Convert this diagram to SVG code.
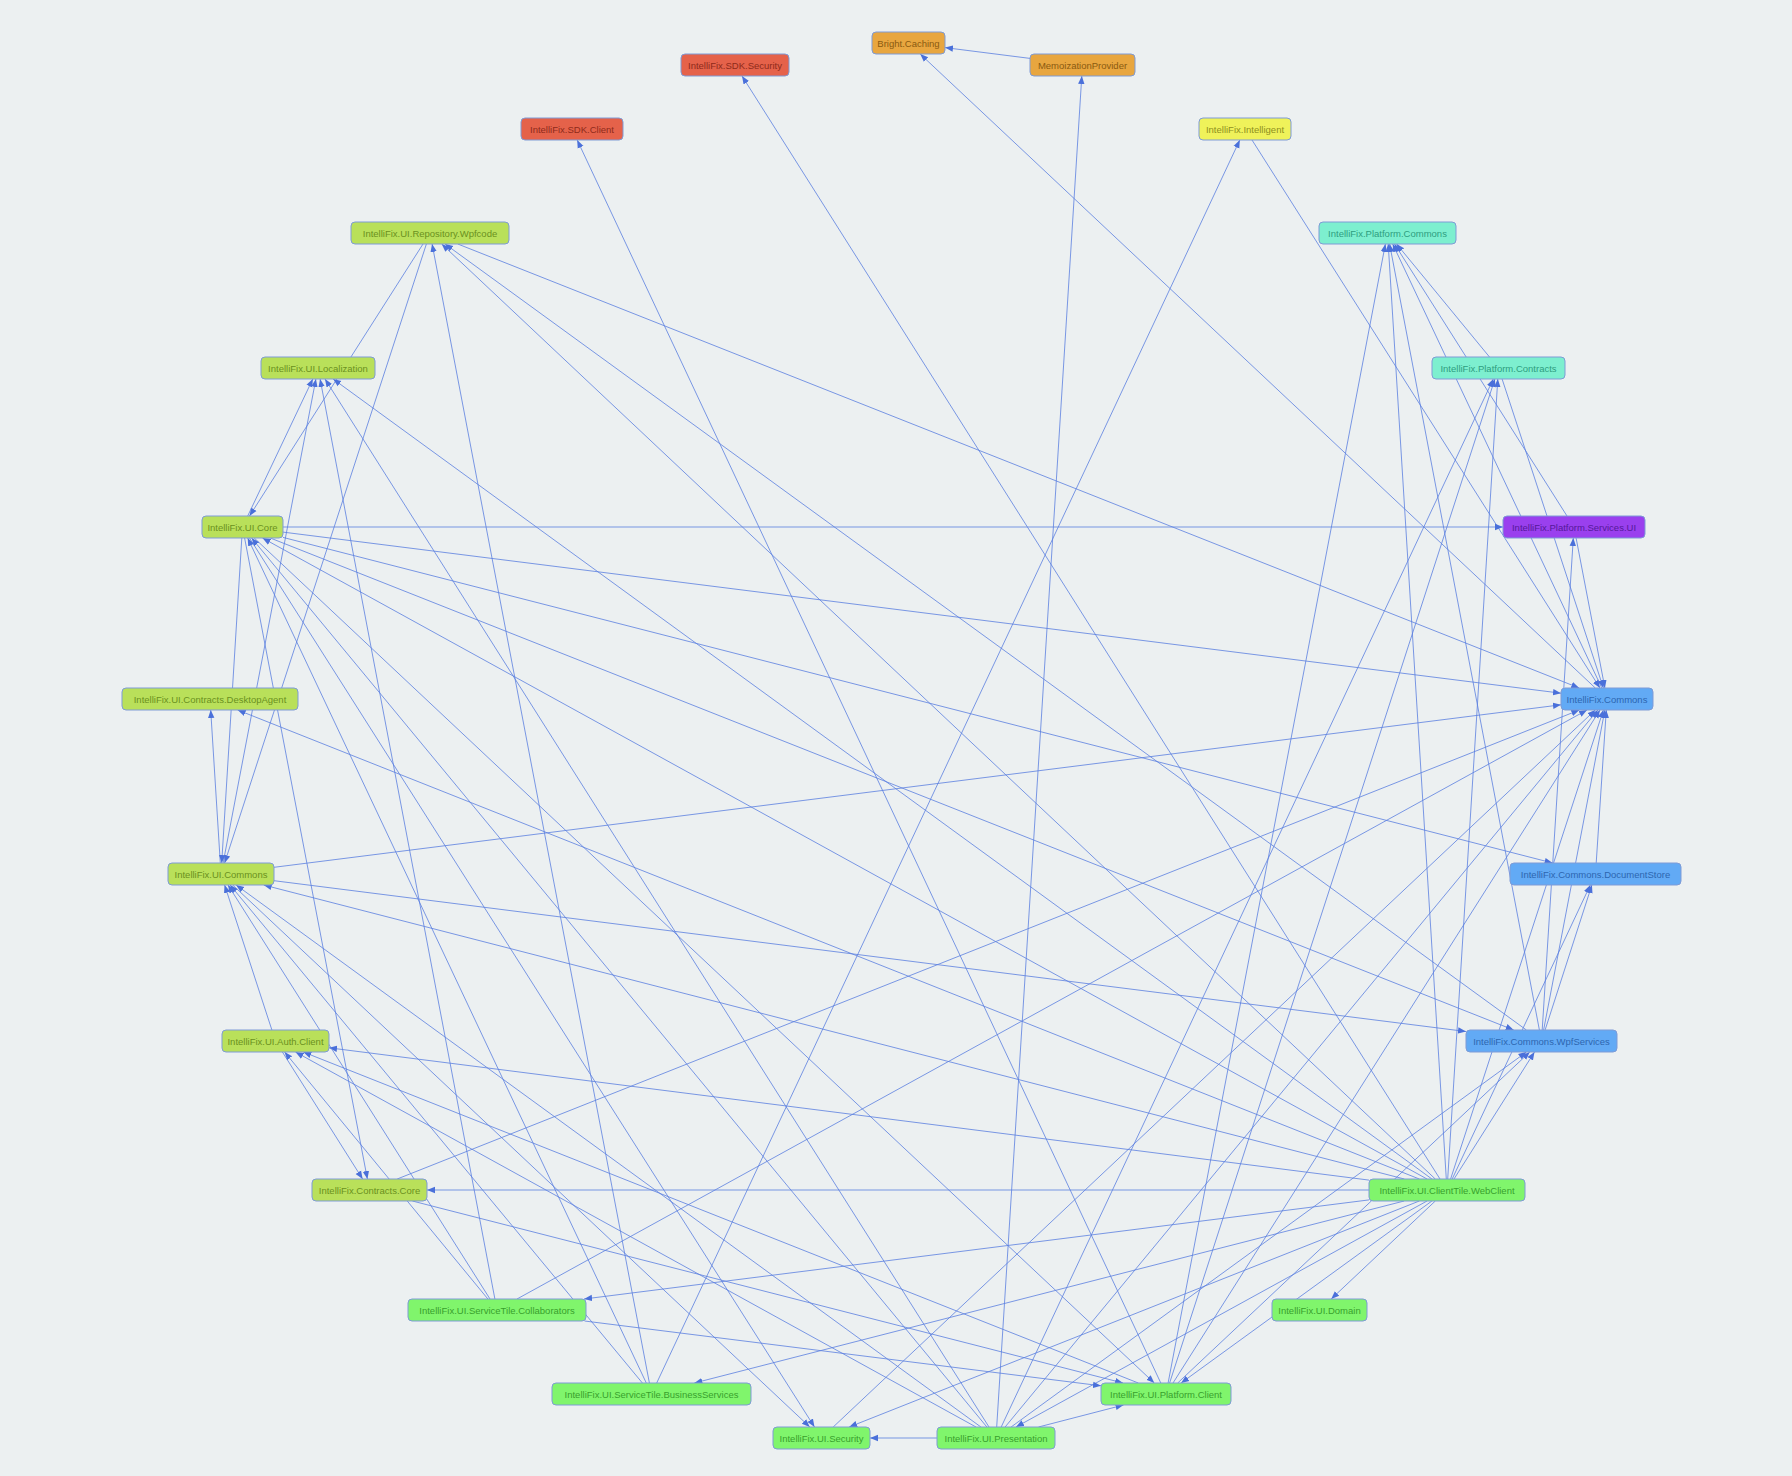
<svg xmlns="http://www.w3.org/2000/svg" width="1792" height="1476" viewBox="0 0 1792 1476">
<style>
.bg{fill:#ECF0F1}
.e line{stroke:#5B7FE0;stroke-width:1;stroke-opacity:0.8;fill:none}
.n rect{stroke:#7E9BD6;stroke-width:1}
.n text{font-family:"Liberation Sans",Arial,sans-serif;font-size:9.5px;text-anchor:middle}
.red rect{fill:#E5624A}.red text{fill:#8E2A1A}
.org rect{fill:#E8A63F}.org text{fill:#8A5A10}
.yel rect{fill:#EFF25A}.yel text{fill:#8E9020}
.tea rect{fill:#7DEFCF}.tea text{fill:#2E9E80}
.lim rect{fill:#B9E05A}.lim text{fill:#6A9020}
.pur rect{fill:#9A40EE}.pur text{fill:#55189A}
.blu rect{fill:#62AAF5}.blu text{fill:#2D66B0}
.grn rect{fill:#80F56C}.grn text{fill:#38A02C}
</style>
<defs>
<marker id="a" viewBox="0 0 10 10" refX="10" refY="5" markerWidth="8" markerHeight="8" markerUnits="userSpaceOnUse" orient="auto">
<path d="M0,1 L10,5 L0,9 z" fill="#4A70DA"/>
</marker>
</defs>
<rect class="bg" x="0" y="0" width="1792" height="1476"/>
<g id="edges" class="e" marker-end="url(#a)">
<line x1="1030" y1="58.4" x2="945" y2="47.6" marker-end="url(#a)"/>
<line x1="1595.3" y1="688" x2="920.2" y2="54" marker-end="url(#a)"/>
<line x1="996.7" y1="1427" x2="1081.8" y2="76" marker-end="url(#a)"/>
<line x1="1440" y1="1179" x2="742" y2="76" marker-end="url(#a)"/>
<line x1="1160.8" y1="1383" x2="577.2" y2="140" marker-end="url(#a)"/>
<line x1="656.7" y1="1383" x2="1239.8" y2="140" marker-end="url(#a)"/>
<line x1="1252" y1="140" x2="1600" y2="688" marker-end="url(#a)"/>
<line x1="1489.5" y1="357" x2="1396.6" y2="244" marker-end="url(#a)"/>
<line x1="1567" y1="516" x2="1394.5" y2="244" marker-end="url(#a)"/>
<line x1="1601.8" y1="688" x2="1392.7" y2="244" marker-end="url(#a)"/>
<line x1="1539.4" y1="1030" x2="1389.6" y2="244" marker-end="url(#a)"/>
<line x1="1446.3" y1="1179" x2="1388.2" y2="244" marker-end="url(#a)"/>
<line x1="1168.1" y1="1383" x2="1385.4" y2="244" marker-end="url(#a)"/>
<line x1="423" y1="244" x2="249.5" y2="516" marker-end="url(#a)"/>
<line x1="426.4" y1="244" x2="224.6" y2="863" marker-end="url(#a)"/>
<line x1="649.4" y1="1383" x2="432.1" y2="244" marker-end="url(#a)"/>
<line x1="1435.3" y1="1179" x2="441.7" y2="244" marker-end="url(#a)"/>
<line x1="1526.4" y1="1030" x2="445.1" y2="244" marker-end="url(#a)"/>
<line x1="457.8" y1="244" x2="1579.2" y2="688" marker-end="url(#a)"/>
<line x1="247.7" y1="516" x2="312.8" y2="379" marker-end="url(#a)"/>
<line x1="223.1" y1="863" x2="315.9" y2="379" marker-end="url(#a)"/>
<line x1="494.9" y1="1299" x2="320.1" y2="379" marker-end="url(#a)"/>
<line x1="989" y1="1427" x2="325" y2="379" marker-end="url(#a)"/>
<line x1="1431.9" y1="1179" x2="333.1" y2="379" marker-end="url(#a)"/>
<line x1="283" y1="527" x2="1503" y2="527" marker-end="url(#a)"/>
<line x1="283" y1="532.1" x2="1561" y2="693.2" marker-end="url(#a)"/>
<line x1="220.3" y1="863" x2="210.7" y2="710" marker-end="url(#a)"/>
<line x1="1419.3" y1="1179" x2="237.7" y2="710" marker-end="url(#a)"/>
<line x1="241.8" y1="538" x2="221.7" y2="863" marker-end="url(#a)"/>
<line x1="274" y1="867.3" x2="1561" y2="704.8" marker-end="url(#a)"/>
<line x1="274" y1="880.7" x2="1466" y2="1031.5" marker-end="url(#a)"/>
<line x1="1404.3" y1="1179" x2="263.7" y2="885" marker-end="url(#a)"/>
<line x1="271.9" y1="1030" x2="224.6" y2="885" marker-end="url(#a)"/>
<line x1="642.4" y1="1383" x2="230.1" y2="885" marker-end="url(#a)"/>
<line x1="232.7" y1="885" x2="809.8" y2="1427" marker-end="url(#a)"/>
<line x1="249.5" y1="538" x2="814.5" y2="1427" marker-end="url(#a)"/>
<line x1="980.9" y1="1427" x2="236.1" y2="885" marker-end="url(#a)"/>
<line x1="254.2" y1="538" x2="1154.3" y2="1383" marker-end="url(#a)"/>
<line x1="283" y1="537.4" x2="1552.6" y2="863" marker-end="url(#a)"/>
<line x1="1576.1" y1="538" x2="1604.9" y2="688" marker-end="url(#a)"/>
<line x1="1542.2" y1="1030" x2="1573.3" y2="538" marker-end="url(#a)"/>
<line x1="1502.1" y1="379" x2="1603.4" y2="688" marker-end="url(#a)"/>
<line x1="1596.2" y1="863" x2="1606.3" y2="710" marker-end="url(#a)"/>
<line x1="1543.6" y1="1030" x2="1604.9" y2="710" marker-end="url(#a)"/>
<line x1="1450.6" y1="1179" x2="1603.4" y2="710" marker-end="url(#a)"/>
<line x1="1173" y1="1383" x2="1600" y2="710" marker-end="url(#a)"/>
<line x1="1005.1" y1="1427" x2="1597.9" y2="710" marker-end="url(#a)"/>
<line x1="833.2" y1="1427" x2="1595.3" y2="710" marker-end="url(#a)"/>
<line x1="517" y1="1299" x2="1587" y2="710" marker-end="url(#a)"/>
<line x1="397.2" y1="1179" x2="1579.3" y2="710" marker-end="url(#a)"/>
<line x1="1545.1" y1="1030" x2="1591.9" y2="885" marker-end="url(#a)"/>
<line x1="1452.2" y1="1179" x2="1590.3" y2="885" marker-end="url(#a)"/>
<line x1="1454" y1="1179" x2="1534.5" y2="1052" marker-end="url(#a)"/>
<line x1="1177.7" y1="1383" x2="1529.8" y2="1052" marker-end="url(#a)"/>
<line x1="1011.1" y1="1427" x2="1526.4" y2="1052" marker-end="url(#a)"/>
<line x1="270.3" y1="538" x2="1513.7" y2="1030" marker-end="url(#a)"/>
<line x1="1369" y1="1180.1" x2="329" y2="1047.8" marker-end="url(#a)"/>
<line x1="1369" y1="1190" x2="427" y2="1190" marker-end="url(#a)"/>
<line x1="1369" y1="1199.9" x2="584.1" y2="1299" marker-end="url(#a)"/>
<line x1="1404.1" y1="1201" x2="694.4" y2="1383" marker-end="url(#a)"/>
<line x1="1419.3" y1="1201" x2="849.2" y2="1427" marker-end="url(#a)"/>
<line x1="1427" y1="1201" x2="1016" y2="1427" marker-end="url(#a)"/>
<line x1="1431.9" y1="1201" x2="1181.1" y2="1383" marker-end="url(#a)"/>
<line x1="1435.3" y1="1201" x2="1331.2" y2="1299" marker-end="url(#a)"/>
<line x1="1447.7" y1="1179" x2="1497.8" y2="379" marker-end="url(#a)"/>
<line x1="282.4" y1="1052" x2="362.6" y2="1179" marker-end="url(#a)"/>
<line x1="244.6" y1="538" x2="367.4" y2="1179" marker-end="url(#a)"/>
<line x1="487.9" y1="1299" x2="284.6" y2="1052" marker-end="url(#a)"/>
<line x1="976" y1="1427" x2="295.5" y2="1052" marker-end="url(#a)"/>
<line x1="1138.3" y1="1383" x2="303.3" y2="1052" marker-end="url(#a)"/>
<line x1="412.4" y1="1201" x2="1123" y2="1383" marker-end="url(#a)"/>
<line x1="584.6" y1="1321" x2="1101" y2="1385.8" marker-end="url(#a)"/>
<line x1="646.3" y1="1383" x2="247.7" y2="538" marker-end="url(#a)"/>
<line x1="986.9" y1="1427" x2="251.6" y2="538" marker-end="url(#a)"/>
<line x1="937" y1="1438" x2="870" y2="1438" marker-end="url(#a)"/>
<line x1="1038.5" y1="1427" x2="1123.5" y2="1405" marker-end="url(#a)"/>
<line x1="1169.6" y1="1383" x2="1494.9" y2="379" marker-end="url(#a)"/>
<line x1="1001.2" y1="1427" x2="1493.3" y2="379" marker-end="url(#a)"/>
<line x1="490" y1="1299" x2="228" y2="885" marker-end="url(#a)"/>
<line x1="1427" y1="1179" x2="262.5" y2="538" marker-end="url(#a)"/>
</g>
<g id="n-bright-caching" class="n org"><rect x="872" y="32" width="73" height="22" rx="4"/><text x="908.5" y="46.5">Bright.Caching</text></g>
<g id="n-memoization" class="n org"><rect x="1030" y="54" width="105" height="22" rx="4"/><text x="1082.5" y="68.5">MemoizationProvider</text></g>
<g id="n-sdk-security" class="n red"><rect x="681" y="54" width="108" height="22" rx="4"/><text x="735" y="68.5">IntelliFix.SDK.Security</text></g>
<g id="n-sdk-client" class="n red"><rect x="521" y="118" width="102" height="22" rx="4"/><text x="572" y="132.5">IntelliFix.SDK.Client</text></g>
<g id="n-intelligence" class="n yel"><rect x="1199" y="118" width="92" height="22" rx="4"/><text x="1245" y="132.5">IntelliFix.Intelligent</text></g>
<g id="n-repository" class="n lim"><rect x="351" y="222" width="158" height="22" rx="4"/><text x="430" y="236.5">IntelliFix.UI.Repository.Wpfcode</text></g>
<g id="n-platform-commons" class="n tea"><rect x="1319" y="222" width="137" height="22" rx="4"/><text x="1387.5" y="236.5">IntelliFix.Platform.Commons</text></g>
<g id="n-localization" class="n lim"><rect x="261" y="357" width="114" height="22" rx="4"/><text x="318" y="371.5">IntelliFix.UI.Localization</text></g>
<g id="n-platform-contracts" class="n tea"><rect x="1432" y="357" width="133" height="22" rx="4"/><text x="1498.5" y="371.5">IntelliFix.Platform.Contracts</text></g>
<g id="n-ui-core" class="n lim"><rect x="202" y="516" width="81" height="22" rx="4"/><text x="242.5" y="530.5">IntelliFix.UI.Core</text></g>
<g id="n-platform-services-ui" class="n pur"><rect x="1503" y="516" width="142" height="22" rx="4"/><text x="1574" y="530.5">IntelliFix.Platform.Services.UI</text></g>
<g id="n-desktop-agent" class="n lim"><rect x="122" y="688" width="176" height="22" rx="4"/><text x="210" y="702.5">IntelliFix.UI.Contracts.DesktopAgent</text></g>
<g id="n-commons" class="n blu"><rect x="1561" y="688" width="92" height="22" rx="4"/><text x="1607" y="702.5">IntelliFix.Commons</text></g>
<g id="n-ui-commons" class="n lim"><rect x="168" y="863" width="106" height="22" rx="4"/><text x="221" y="877.5">IntelliFix.UI.Commons</text></g>
<g id="n-document-store" class="n blu"><rect x="1510" y="863" width="171" height="22" rx="4"/><text x="1595.5" y="877.5">IntelliFix.Commons.DocumentStore</text></g>
<g id="n-auth" class="n lim"><rect x="222" y="1030" width="107" height="22" rx="4"/><text x="275.5" y="1044.5">IntelliFix.UI.Auth.Client</text></g>
<g id="n-commons-wpf" class="n blu"><rect x="1466" y="1030" width="151" height="22" rx="4"/><text x="1541.5" y="1044.5">IntelliFix.Commons.WpfServices</text></g>
<g id="n-contracts-core" class="n lim"><rect x="312" y="1179" width="115" height="22" rx="4"/><text x="369.5" y="1193.5">IntelliFix.Contracts.Core</text></g>
<g id="n-webclient" class="n grn"><rect x="1369" y="1179" width="156" height="22" rx="4"/><text x="1447" y="1193.5">IntelliFix.UI.ClientTile.WebClient</text></g>
<g id="n-collaborators" class="n grn"><rect x="408" y="1299" width="178" height="22" rx="4"/><text x="497" y="1313.5">IntelliFix.UI.ServiceTile.Collaborators</text></g>
<g id="n-domain" class="n grn"><rect x="1272" y="1299" width="95" height="22" rx="4"/><text x="1319.5" y="1313.5">IntelliFix.UI.Domain</text></g>
<g id="n-business-services" class="n grn"><rect x="552" y="1383" width="199" height="22" rx="4"/><text x="651.5" y="1397.5">IntelliFix.UI.ServiceTile.BusinessServices</text></g>
<g id="n-platform-client" class="n grn"><rect x="1101" y="1383" width="130" height="22" rx="4"/><text x="1166" y="1397.5">IntelliFix.UI.Platform.Client</text></g>
<g id="n-ui-security" class="n grn"><rect x="773" y="1427" width="97" height="22" rx="4"/><text x="821.5" y="1441.5">IntelliFix.UI.Security</text></g>
<g id="n-presentation" class="n grn"><rect x="937" y="1427" width="118" height="22" rx="4"/><text x="996" y="1441.5">IntelliFix.UI.Presentation</text></g>
</svg>
